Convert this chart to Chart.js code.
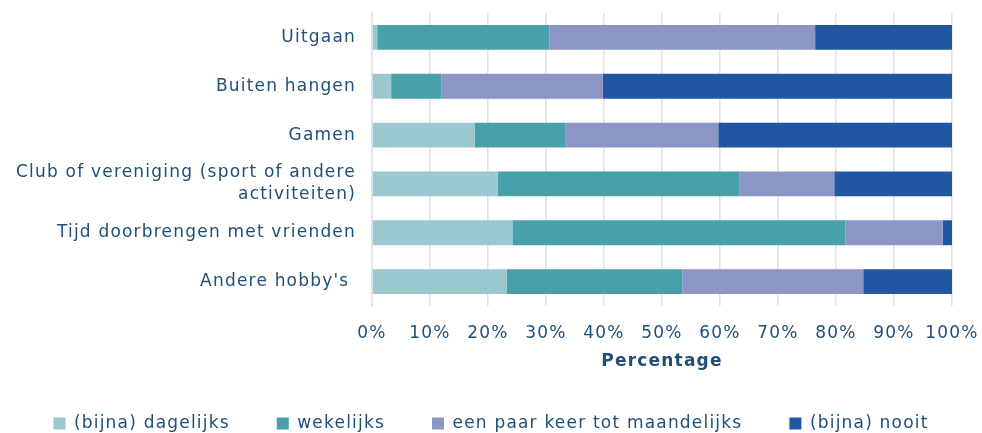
<!DOCTYPE html>
<html>
<head>
<meta charset="utf-8">
<script src="https://cdn.jsdelivr.net/npm/chart.js@4"></script>
<style>
  body { margin: 0; background: #fff; }
  #wrap { width: 982px; height: 433px; }
</style>
</head>
<body>
<div id="wrap"><canvas id="chart"></canvas></div>
<script>
// categories (top to bottom) and share per frequency, in percent
const categories = [
    'Uitgaan',
    'Buiten hangen',
    'Gamen',
    ['Club of vereniging (sport of andere', 'activiteiten)'],
    'Tijd doorbrengen met vrienden',
    "Andere hobby's "
];
const dagelijks = [0.9, 3.3, 17.7, 21.7, 24.2, 23.2];
const wekelijks = [29.7, 8.7, 15.7, 41.7, 57.4, 30.3];
const maandelijks = [45.8, 27.8, 26.3, 16.3, 16.8, 31.2];
const nooit = [23.6, 60.2, 40.3, 20.3, 1.6, 15.3];
const tickValues = [0, 10, 20, 30, 40, 50, 60, 70, 80, 90, 100];

const textColor = '#1F4E79';
const font = 'DejaVu Sans';

// Verdana-like look: a bit of tracking on all canvas text
const spacing = {
    id: 'spacing',
    beforeUpdate(chart) { chart.ctx.letterSpacing = '1.2px'; },
    beforeDraw(chart) { chart.ctx.letterSpacing = '1.2px'; }
};

// keep the legend on one low, compact row with wide gaps between items
const legendHeight = {
    id: 'legendHeight',
    beforeLayout(chart) {
        const lg = chart.legend;
        if (lg && !lg._patched) {
            const fit = lg.fit.bind(lg);
            const draw = lg.draw.bind(lg);
            lg.fit = function() {
                this.maxWidth = chart.width;
                fit();
                this.height = 65;
            };
            lg.draw = function() {
                const l = this.left, r = this.right;
                this.left = 0;
                this.right = chart.width;
                draw();
                this.left = l;
                this.right = r;
            };
            lg._patched = true;
        }
    }
};

const ctx = document.getElementById('chart').getContext('2d');
new Chart(ctx, {
    type: 'bar',
    data: {
        labels: categories,
        datasets: [
            { label: '(bijna) dagelijks', data: dagelijks, backgroundColor: '#9BC8CF' },
            { label: 'wekelijks', data: wekelijks, backgroundColor: '#48A0A8' },
            { label: 'een paar keer tot maandelijks', data: maandelijks, backgroundColor: '#8B95C6' },
            { label: '(bijna) nooit', data: nooit, backgroundColor: '#2256A2' }
        ]
    },
    plugins: [spacing, legendHeight],
    options: {
        indexAxis: 'y',
        responsive: true,
        maintainAspectRatio: false,
        animation: false,
        layout: { padding: { left: 12, right: 30, top: 13, bottom: 0 } },
        datasets: { bar: { barPercentage: 0.51, categoryPercentage: 1.0 } },
        scales: {
            x: {
                stacked: true,
                min: 0,
                max: 100,
                afterBuildTicks: axis => { axis.ticks = tickValues.map(v => ({ value: v })); },
                grid: { color: '#D6E4F5', lineWidth: 1.5, drawTicks: false },
                border: { display: false },
                ticks: {
                    color: textColor,
                    font: { family: font, size: 17 },
                    padding: 17,
                    maxRotation: 0,
                    callback: v => v + '%'
                },
                title: {
                    display: true,
                    text: 'Percentage',
                    color: textColor,
                    font: { family: font, size: 17, weight: 'bold' },
                    padding: { top: 10, bottom: -4 }
                },
                afterFit: s => { s.height = 62; s.paddingLeft = 0; s.paddingRight = 0; }
            },
            y: {
                stacked: true,
                grid: { display: false, drawTicks: false },
                border: { color: '#D6E4F5', width: 1.5 },
                ticks: {
                    color: textColor,
                    font: { family: font, size: 17, lineHeight: 1.3 },
                    padding: 16,
                    autoSkip: false
                },
                afterFit: s => { s.width = 360; s.paddingTop = 0; s.paddingBottom = 0; }
            }
        },
        plugins: {
            legend: {
                position: 'bottom',
                labels: {
                    color: textColor,
                    font: { family: font, size: 17 },
                    boxWidth: 12,
                    boxHeight: 12,
                    padding: 47
                }
            },
            tooltip: { enabled: false }
        }
    }
});
</script>
</body>
</html>
